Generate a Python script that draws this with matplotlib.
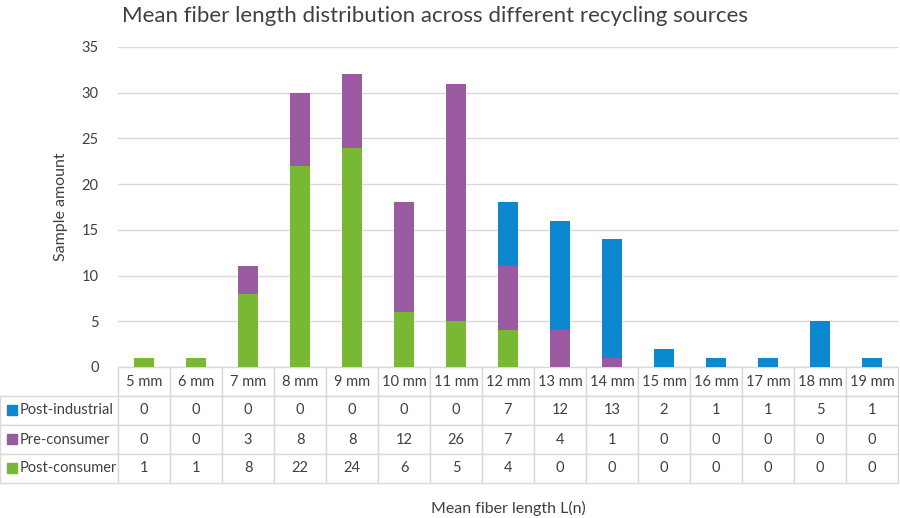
import matplotlib
matplotlib.use("Agg")
import matplotlib.pyplot as plt
from matplotlib.patches import Rectangle
import numpy as np

plt.rcParams['font.family'] = ['Lato', 'DejaVu Sans']

categories = ['5 mm', '6 mm', '7 mm', '8 mm', '9 mm', '10 mm', '11 mm', '12 mm',
              '13 mm', '14 mm', '15 mm', '16 mm', '17 mm', '18 mm', '19 mm']
post_industrial = [0, 0, 0, 0, 0, 0, 0, 7, 12, 13, 2, 1, 1, 5, 1]
pre_consumer = [0, 0, 3, 8, 8, 12, 26, 7, 4, 1, 0, 0, 0, 0, 0]
post_consumer = [1, 1, 8, 22, 24, 6, 5, 4, 0, 0, 0, 0, 0, 0, 0]

c_ind = '#0B88D0'
c_pre = '#9A5AA2'
c_post = '#78B833'
txt = '#404040'
grid = '#d9d9d9'

W, H = 900, 518
fig = plt.figure(figsize=(9, 5.18), dpi=100)
ax = fig.add_axes([118 / W, 1 - 367 / H, 780 / W, 320 / H])

x = np.arange(len(categories))
post = np.array(post_consumer)
pre = np.array(pre_consumer)
ind = np.array(post_industrial)
ax.bar(x, post, 0.4, color=c_post)
ax.bar(x, pre, 0.4, bottom=post, color=c_pre)
ax.bar(x, ind, 0.4, bottom=post + pre, color=c_ind)

ax.set_xlim(-0.5, len(categories) - 0.5)
ax.set_ylim(0, 35)
ax.set_yticks(range(0, 36, 5))
ax.yaxis.grid(True, color=grid, linewidth=1)
ax.set_axisbelow(True)
ax.set_xticks([])
for s in ax.spines.values():
    s.set_visible(False)
ax.tick_params(axis='y', length=0, labelsize=10.5, colors=txt, pad=14)

# data table under the bars
rows = [('Post-industrial', post_industrial, c_ind),
        ('Pre-consumer', pre_consumer, c_pre),
        ('Post-consumer', post_consumer, c_post)]
cell_text = [[name] + [str(v) for v in vals] for name, vals, _ in rows]
col_w = [118] + [52] * len(categories)
tot = sum(col_w)
tab = ax.table(cellText=cell_text, colLabels=[''] + categories,
               colWidths=[w / tot for w in col_w],
               bbox=[-118 / 780, -116 / 320, 898 / 780, 116 / 320],
               cellLoc='center')
tab.auto_set_font_size(False)
tab.set_fontsize(10.5)
for (r, c), cell in tab.get_celld().items():
    cell.set_edgecolor(grid)
    cell.set_linewidth(1)
    cell.get_text().set_color(txt)
    if r == 0 and c == 0:
        cell.visible_edges = ''
    if r > 0 and c == 0:
        cell.get_text().set_ha('left')
        cell._loc = 'left'
        cell.PAD = 0.17

# legend keys in row labels
for i, (_, _, col) in enumerate(rows):
    yc = 410 + i * 29
    fig.add_artist(Rectangle((7 / W, 1 - (yc + 5) / H), 10 / W, 10 / H,
                             color=col, transform=fig.transFigure))

ax.set_ylabel('Sample amount', fontsize=11.5, color=txt)
ax.yaxis.set_label_coords(-50 / 780, 0.5)
fig.text(508 / W, 1 - 508 / H, 'Mean fiber length L(n)', ha='center', va='center',
         fontsize=11.5, color=txt)
fig.text(435 / W, 1 - 16 / H, 'Mean fiber length distribution across different recycling sources',
         ha='center', va='center', fontsize=16, color=txt)

fig.savefig('out.png', dpi=100)
